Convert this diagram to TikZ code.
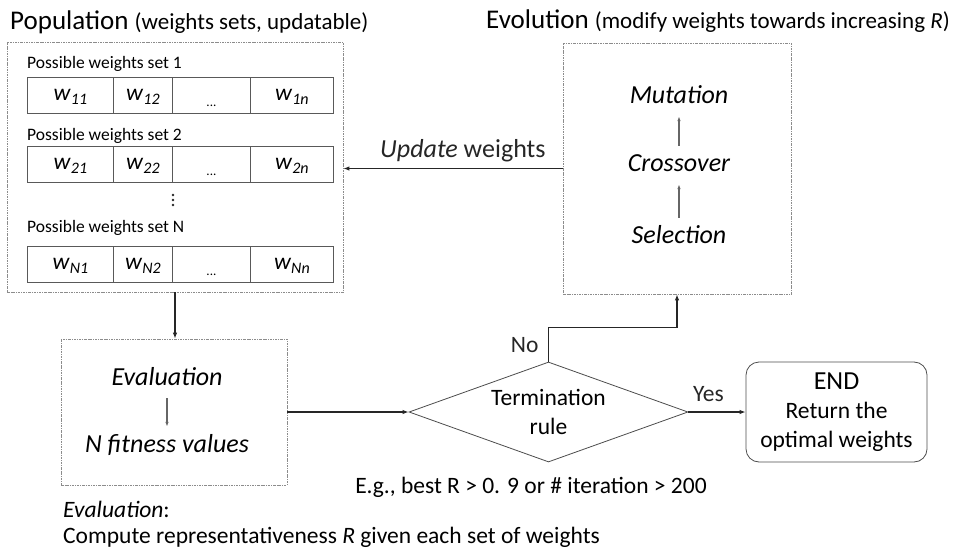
\documentclass[tikz,border=0pt]{standalone}
\usepackage{fontspec}
\setmainfont{Carlito}
\usetikzlibrary{shapes.geometric,arrows.meta,positioning}

\newcommand{\wsub}[1]{\textit{w}\raisebox{-4.5pt}{\fontsize{16}{16}\selectfont\itshape #1}}
\newcommand{\cellgap}{\raisebox{-6pt}{\fontsize{13}{13}\selectfont ...}}

\begin{document}
\begin{tikzpicture}[x=1pt, y=-1pt,
  every node/.style={font=\fontsize{23.5}{29}\selectfont},
  group/.style={draw=black!45, dash pattern=on 2.5pt off 1pt on 0.8pt off 1pt, line width=0.7pt, inner sep=0pt},
  cell/.style={draw=black!65, line width=0.8pt, minimum height=36pt, inner sep=0pt, text height=16pt, text depth=6pt, anchor=north west},
  setlabel/.style={anchor=base west, inner sep=0pt, font=\fontsize{17.5}{20}\selectfont},
  stage/.style={font=\fontsize{26}{30}\selectfont\itshape, text height=18pt, text depth=6pt, inner sep=0pt, inner ysep=7pt},
  flow/.style={-{Latex[length=6pt,width=4.5pt]}, line width=1.3pt, black!85},
  inner/.style={-{Latex[length=5pt,width=3.5pt]}, line width=1.1pt, black!60},
  title/.style={anchor=base west, inner sep=0pt}]
  \useasboundingbox (0,0) rectangle (958,551);

  % population of weight sets
  \node[group, minimum width=336pt, minimum height=250pt] (pop) at (175,167) {};
  \node[title] (poptitle) at (10,30) {\fontsize{27}{30}\selectfont Population \fontsize{23}{30}\selectfont(weights sets, updatable)};
  \foreach \r/\top/\base/\idx in {1/77/68/1, 2/146/140/2, 3/246/232/N} {
    \node[setlabel] (set\r) at (27,\base) {Possible weights set \idx};
    \node[cell, minimum width=86pt] (c\r-1) at (27,\top) {\wsub{\idx1}};
    \node[cell, minimum width=59pt] (c\r-2) at (113,\top) {\wsub{\idx2}};
    \node[cell, minimum width=78pt] (c\r-3) at (172,\top) {\cellgap};
    \node[cell, minimum width=83pt] (c\r-4) at (250,\top) {\wsub{\idx n}};
  }
  \foreach \dy in {-5,0,5}
    \fill[black!85] (173,200+\dy) circle (1.4pt);

  % evaluation
  \node[group, minimum width=226pt, minimum height=146pt] (evalbox) at (174,412) {};
  \node[stage] (evaltext) at (167,379) {Evaluation};
  \node[stage] (fitness) at (167,446) {N fitness values};
  \draw[inner] (evaltext) -- (fitness);

  % evolution
  \node[group, minimum width=228pt, minimum height=251pt] (evo) at (677,168.5) {};
  \node[title] (evotitle) at (486,29) {\fontsize{27}{30}\selectfont Evolution \fontsize{23}{30}\selectfont(modify weights towards increasing \textit{R})};
  \node[stage] (mutation) at (679,97) {Mutation};
  \node[stage] (crossover) at (679,165) {Crossover};
  \node[stage] (selection) at (679,237) {Selection};
  \draw[inner] (selection) -- (crossover);
  \draw[inner] (crossover) -- (mutation);

  % termination and end
  \node[diamond, aspect=2.79, draw=black!70, line width=0.8pt, minimum width=279pt, minimum height=100pt, inner sep=0pt, align=center] (term) at (548.5,412) {Termination\\rule};
  \node[draw=black!70, line width=0.8pt, rounded corners=13pt, minimum width=181pt, minimum height=100pt, inner sep=0pt, align=center] (end) at (836.5,412) {{\fontsize{26}{29}\selectfont END}\\Return the\\optimal weights};
  \node[anchor=base] (rulenote) at (531,493) {E.g., best R > 0. 9 or \# iteration > 200};

  % connectors
  \draw[flow] (pop) -- (pop |- evalbox.north);
  \draw[flow] (evalbox) -- (term);
  \draw[flow] (term) -- node[above=6pt, pos=0.35] {Yes} (end);
  \draw[flow] (term.north) -- node[left=6pt, pos=0.5] {No} ++(0,-34) -| (evo.south);
  \draw[flow] (evo.west) -- node[above=3pt, pos=0.455, font=\fontsize{26}{29}\selectfont] {\textit{Update} weights} (evo.west -| pop.east);

  % note below
  \node[title] (evalnote) at (63,517) {\textit{Evaluation}:};
  \node[title] (computenote) at (63,543) {Compute representativeness \textit{R} given each set of weights};
\end{tikzpicture}
\end{document}
